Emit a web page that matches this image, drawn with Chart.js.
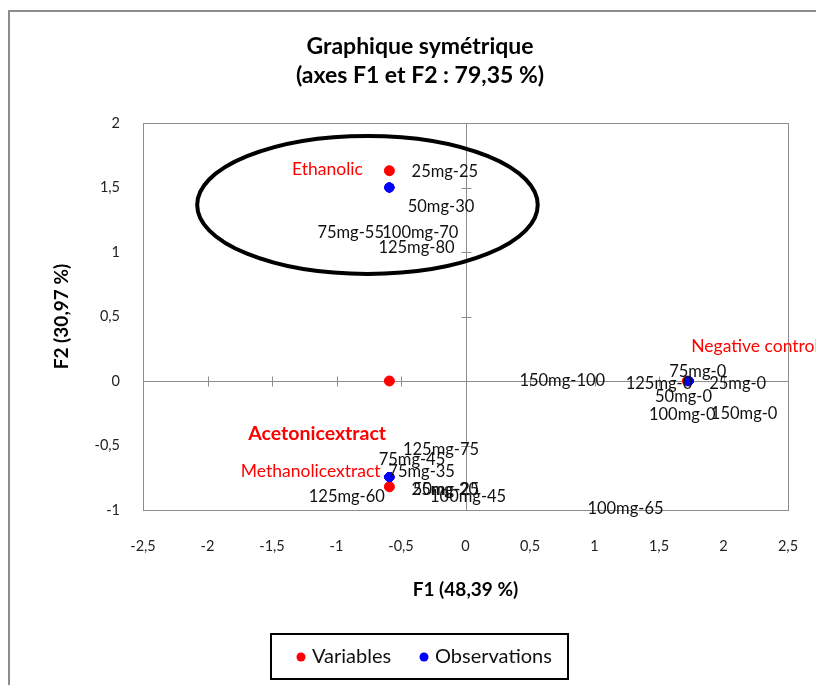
<!DOCTYPE html>
<html>
<head>
<meta charset="utf-8">
<script src="https://cdn.jsdelivr.net/npm/chart.js@4"></script>
<style>
  html, body { margin: 0; padding: 0; background: #fff; overflow: hidden; }
  #wrap { width: 816px; height: 685px; position: relative; }
  canvas { display: block; }
</style>
</head>
<body>
<div id="wrap"><canvas id="chart"></canvas></div>
<script>
// variables (red) - PCA coordinates on F1/F2
const varNames = ["Ethanolic", "Acetonicextract", "Methanolicextract", "Negative control"];
const varX = [-0.59, -0.59, -0.59, 1.72];
const varY = [1.63, 0, -0.82, 0];
// where the variable labels sit (data units)
const varLabelX = [-1.07, -1.15, -1.20, 1.75];
const varLabelY = [1.64, -0.41, -0.70, 0.27];

// observations (blue)
const obsNames = ["25mg-25", "50mg-30", "75mg-55", "100mg-70", "125mg-80",
  "125mg-75", "75mg-45", "75mg-35", "25mg-20", "50mg-25", "100mg-45", "125mg-60",
  "150mg-100", "100mg-65",
  "75mg-0", "125mg-0", "25mg-0", "50mg-0", "100mg-0", "150mg-0"];
const obsX = [-0.59, -0.59, -0.59, -0.59, -0.59,
  -0.59, -0.59, -0.59, -0.59, -0.59, -0.59, -0.59,
  1.73, 1.73,
  1.73, 1.73, 1.73, 1.73, 1.73, 1.73];
const obsY = [1.50, 1.50, 1.50, 1.50, 1.50,
  -0.745, -0.745, -0.745, -0.745, -0.745, -0.745, -0.745,
  0, 0,
  0, 0, 0, 0, 0, 0];
// label centres (data units)
const obsLabelX = [-0.16, -0.19, -0.89, -0.35, -0.38,
  -0.19, -0.415, -0.34, -0.16, -0.15, 0.02, -0.92,
  0.75, 1.24,
  1.80, 1.50, 2.11, 1.69, 1.68, 2.16];
const obsLabelY = [1.62, 1.35, 1.15, 1.15, 1.03,
  -0.53, -0.61, -0.70, -0.84, -0.84, -0.90, -0.90,
  0, -0.99,
  0.07, -0.02, -0.02, -0.12, -0.26, -0.25];

const xTicks = [-2.5, -2, -1.5, -1, -0.5, 0, 0.5, 1, 1.5, 2, 2.5];
const yTicks = [-1, -0.5, 0, 0.5, 1, 1.5, 2];

// ellipse around the ethanolic group (data units)
const ellipseCenter = [-0.76, 1.365];
const ellipseRadius = [1.32, 0.535];

const FONT = "Lato, 'Open Sans', sans-serif";
const comma = (v) => String(v).replace(".", ",");

const extras = {
  id: "extras",
  beforeDraw(chart) {
    const ctx = chart.ctx;
    ctx.save();
    ctx.fillStyle = "#fff";
    ctx.fillRect(0, 0, chart.width, chart.height);
    // outer chart frame (cut off right and bottom)
    ctx.strokeStyle = "#8c8c8c";
    ctx.lineWidth = 2;
    ctx.strokeRect(9, 11, 830, 700);
    ctx.restore();
  },
  beforeDatasetsDraw(chart) {
    const ctx = chart.ctx;
    const a = chart.chartArea;
    const xs = chart.scales.x, ys = chart.scales.y;
    ctx.save();
    ctx.strokeStyle = "#8c8c8c";
    ctx.lineWidth = 1;
    ctx.strokeRect(a.left + 0.5, a.top + 0.5, a.width, a.height);
    const x0 = Math.round(xs.getPixelForValue(0)) + 0.5;
    const y0 = Math.round(ys.getPixelForValue(0)) + 0.5;
    ctx.beginPath();
    ctx.moveTo(x0, a.top); ctx.lineTo(x0, a.bottom);
    ctx.moveTo(a.left, y0); ctx.lineTo(a.right, y0);
    xTicks.forEach((t) => {
      const px = Math.round(xs.getPixelForValue(t)) + 0.5;
      ctx.moveTo(px, y0 - 5); ctx.lineTo(px, y0 + 5);
    });
    yTicks.forEach((t) => {
      const py = Math.round(ys.getPixelForValue(t)) + 0.5;
      ctx.moveTo(x0 - 5, py); ctx.lineTo(x0 + 5, py);
    });
    ctx.stroke();
    ctx.restore();
  },
  afterDraw(chart) {
    const ctx = chart.ctx;
    const a = chart.chartArea;
    const xs = chart.scales.x, ys = chart.scales.y;
    const cx = 420;
    ctx.save();

    // title
    ctx.fillStyle = "#000";
    ctx.textAlign = "center";
    ctx.textBaseline = "middle";
    ctx.font = "bold 23px " + FONT;
    ctx.fillText("Graphique symétrique", cx, 47);
    ctx.fillText("(axes F1 et F2 : 79,35 %)", cx, 76);

    // y axis title
    ctx.save();
    ctx.translate(62, (a.top + a.bottom) / 2);
    ctx.rotate(-Math.PI / 2);
    ctx.font = "bold 19px " + FONT;
    ctx.fillText("F2 (30,97 %)", 0, 0);
    ctx.restore();

    // ellipse
    ctx.beginPath();
    const ex = xs.getPixelForValue(ellipseCenter[0]);
    const ey = ys.getPixelForValue(ellipseCenter[1]);
    const rx = xs.getPixelForValue(ellipseCenter[0] + ellipseRadius[0]) - ex;
    const ry = ey - ys.getPixelForValue(ellipseCenter[1] + ellipseRadius[1]);
    ctx.ellipse(ex, ey, rx, ry, 0, 0, Math.PI * 2);
    ctx.strokeStyle = "#000";
    ctx.lineWidth = 4;
    ctx.stroke();

    // observation labels
    ctx.font = "16.5px " + FONT;
    ctx.fillStyle = "#111";
    obsNames.forEach((name, i) => {
      ctx.fillText(name, xs.getPixelForValue(obsLabelX[i]), ys.getPixelForValue(obsLabelY[i]));
    });

    // variable labels
    ctx.fillStyle = "#ff0000";
    varNames.forEach((name, i) => {
      const px = xs.getPixelForValue(varLabelX[i]);
      const py = ys.getPixelForValue(varLabelY[i]);
      if (name === "Acetonicextract") {
        ctx.font = "bold 19.5px " + FONT;
      } else {
        ctx.font = "17.5px " + FONT;
      }
      if (name === "Negative control") {
        ctx.textAlign = "left";
      } else {
        ctx.textAlign = "center";
      }
      ctx.fillText(name, px, py);
    });

    // legend box
    ctx.strokeStyle = "#000";
    ctx.lineWidth = 2;
    ctx.strokeRect(271, 634, 297, 45);
    ctx.font = "20px " + FONT;
    ctx.textAlign = "left";
    ctx.fillStyle = "#ff0000";
    ctx.beginPath(); ctx.arc(301, 657, 4.5, 0, Math.PI * 2); ctx.fill();
    ctx.fillStyle = "#0000ff";
    ctx.beginPath(); ctx.arc(424, 657, 4.5, 0, Math.PI * 2); ctx.fill();
    ctx.fillStyle = "#111";
    ctx.fillText("Variables", 312, 657);
    ctx.fillText("Observations", 435, 657);
    ctx.restore();
  }
};

new Chart(document.getElementById("chart"), {
  type: "scatter",
  data: {
    datasets: [
      {
        label: "Observations",
        data: obsX.map((x, i) => ({ x: x, y: obsY[i] })),
        backgroundColor: "#0000ff",
        borderColor: "#0000ff",
        pointRadius: 4.5,
        pointHoverRadius: 4.5,
      },
      {
        label: "Variables",
        data: varX.map((x, i) => ({ x: x, y: varY[i] })),
        backgroundColor: "#ff0000",
        borderColor: "#ff0000",
        pointRadius: 5,
        pointHoverRadius: 5,
      },
    ],
  },
  options: {
    responsive: true,
    maintainAspectRatio: false,
    animation: false,
    events: [],
    layout: { padding: { top: 123, right: 28, left: 0, bottom: 0 } },
    plugins: {
      legend: { display: false },
      title: { display: false },
      tooltip: { enabled: false },
    },
    scales: {
      x: {
        type: "linear",
        min: -2.5,
        max: 2.5,
        afterBuildTicks: (s) => { s.ticks = xTicks.map((v) => ({ value: v })); },
        afterFit: (s) => {
          s.height = 175;
          // tick padding should not eat horizontal room
          s.paddingLeft = 0;
          s.paddingRight = 0;
        },
        grid: { display: false, drawTicks: false },
        border: { display: false },
        ticks: {
          padding: 28,
          color: "#222",
          font: { family: FONT, size: 14.5 },
          callback: (v) => comma(v),
        },
        title: {
          display: true,
          text: "F1 (48,39 %)",
          color: "#000",
          font: { family: FONT, size: 19, weight: "bold", lineHeight: 1.2 },
          padding: { top: 0, bottom: 84 },
        },
      },
      y: {
        type: "linear",
        min: -1,
        max: 2,
        afterBuildTicks: (s) => { s.ticks = yTicks.map((v) => ({ value: v })); },
        afterFit: (s) => { s.width = 143; },
        grid: { display: false, drawTicks: false },
        border: { display: false },
        ticks: {
          padding: 23,
          color: "#222",
          font: { family: FONT, size: 14.5 },
          callback: (v) => comma(v),
        },
      },
    },
  },
  plugins: [extras],
});
</script>
</body>
</html>
